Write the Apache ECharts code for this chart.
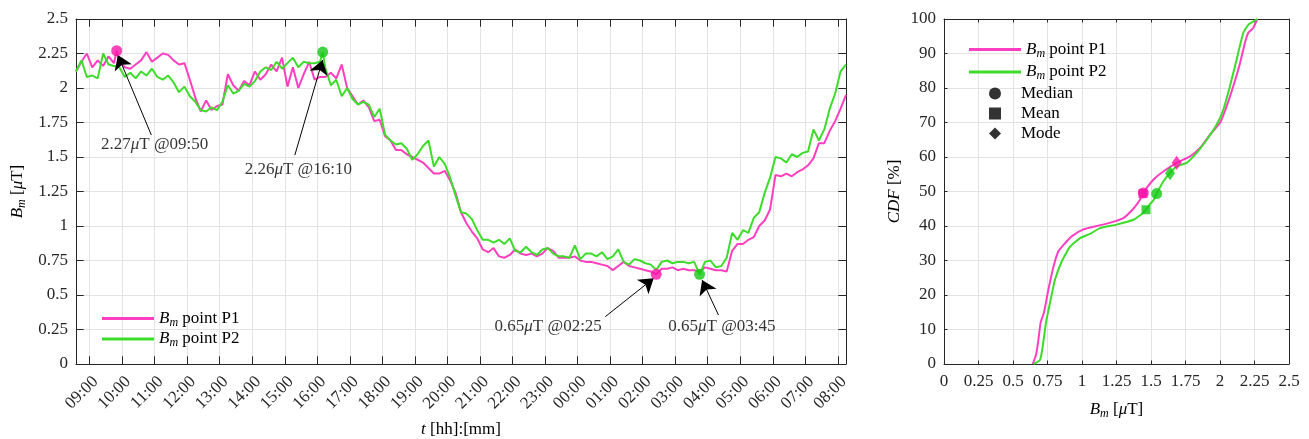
<!DOCTYPE html>
<html><head><meta charset="utf-8">
<script src="https://cdn.jsdelivr.net/npm/echarts@6/dist/echarts.min.js"></script>
<style>html,body{margin:0;padding:0;background:#fff}#c{width:1309px;height:439px}</style>
</head><body><div id="c"></div>
<script>
// ---------- DATA ----------
const startTime = '08:35';       // first sample
const endTime = '08:15';         // last sample (next day)
const stepMinutes = 10;
const hourTicks = [9,10,11,12,13,14,15,16,17,18,19,20,21,22,23,24,25,26,27,28,29,30,31,32];
const bmTicks = [0,0.25,0.5,0.75,1,1.25,1.5,1.75,2,2.25,2.5];

const p1 = [
 2.12,2.19,2.25,2.15,2.20,2.16,2.23,2.18,2.19,2.15,
 2.14,2.17,2.20,2.26,2.19,2.22,2.25,2.24,2.20,2.17,
 2.18,2.06,1.93,1.83,1.91,1.84,1.87,1.88,2.10,2.02,
 1.98,2.05,2.02,2.12,2.06,2.10,2.17,2.12,2.22,2.01,
 2.15,2.00,2.10,2.19,2.06,2.08,2.08,2.11,2.07,2.17,
 2.00,1.94,1.88,1.91,1.86,1.76,1.77,1.65,1.62,1.55,
 1.55,1.52,1.50,1.48,1.46,1.42,1.38,1.38,1.40,1.33,
 1.24,1.10,1.02,0.96,0.91,0.83,0.81,0.84,0.78,0.77,
 0.79,0.83,0.80,0.79,0.80,0.78,0.80,0.84,0.82,0.77,
 0.77,0.77,0.78,0.75,0.74,0.74,0.73,0.72,0.71,0.68,
 0.71,0.74,0.71,0.70,0.69,0.68,0.67,0.65,0.69,0.69,
 0.70,0.68,0.69,0.68,0.68,0.67,0.70,0.69,0.68,0.68,
 0.67,0.82,0.87,0.87,0.90,0.92,1.00,1.04,1.12,1.37,
 1.36,1.38,1.36,1.39,1.41,1.44,1.49,1.60,1.60,1.69,
 1.76,1.85,1.95];
const p2 = [
 2.12,2.20,2.08,2.09,2.07,2.25,2.17,2.16,2.15,2.08,
 2.11,2.07,2.12,2.09,2.14,2.08,2.06,2.09,2.04,1.97,
 2.01,1.94,1.90,1.84,1.83,1.86,1.84,1.90,2.02,1.96,
 1.98,2.03,2.01,2.05,2.12,2.15,2.13,2.19,2.14,2.18,
 2.22,2.15,2.19,2.18,2.18,2.19,2.14,2.02,2.06,1.94,
 2.00,1.92,1.88,1.90,1.88,1.79,1.85,1.66,1.62,1.59,
 1.60,1.56,1.48,1.52,1.58,1.62,1.43,1.50,1.45,1.35,
 1.22,1.10,1.09,1.05,0.97,0.90,0.90,0.88,0.90,0.87,
 0.91,0.82,0.81,0.85,0.81,0.79,0.83,0.84,0.80,0.78,
 0.78,0.77,0.86,0.76,0.80,0.80,0.78,0.81,0.76,0.78,
 0.83,0.74,0.72,0.76,0.75,0.73,0.72,0.68,0.74,0.75,
 0.73,0.74,0.74,0.73,0.74,0.65,0.74,0.75,0.70,0.71,
 0.77,0.95,0.90,0.97,0.95,1.06,1.10,1.24,1.35,1.50,
 1.49,1.46,1.52,1.50,1.53,1.54,1.70,1.62,1.70,1.85,
 1.96,2.12,2.17];

// extremes: [seriesIndex, time, value]
const extremes = [[0,'09:50',2.27],[1,'16:10',2.26],[0,'02:25',0.65],[1,'03:45',0.65]];

// CDF curves
const cdf1B = [0.643,0.667,0.684,0.70,0.725,0.756,0.792,0.828,0.877,0.925,1.01,1.107,1.2,1.3,1.372,1.42,1.444,1.517,1.589,1.686,1.783,1.855,1.928,2.0,2.048,2.096,2.145,2.18,2.205,2.241,2.27];
const cdf1P = [0,2.7,7,12,15,21.5,28,32.6,35,37,39,40,40.9,42.3,45,47.6,49.6,53.4,55.8,58.3,60.2,62.6,66.5,69.9,74.7,80.5,87.2,93,96,97.4,100];
const cdf2B = [0.65,0.696,0.715,0.739,0.768,0.804,0.853,0.913,0.986,1.058,1.13,1.25,1.372,1.444,1.49,1.52,1.541,1.589,1.638,1.686,1.758,1.831,1.904,1.976,2.024,2.072,2.12,2.169,2.205,2.254,2.27];
const cdf2P = [0,1.2,5,12,17.7,24.4,29.7,34,36.5,37.7,39.4,40.4,41.8,43.8,46.2,47.6,49.4,52.9,55.4,57.3,58.3,61.2,65,69.4,73.7,80.5,88.2,96,98.3,99.6,100];
const cdfTicksX = [0,0.25,0.5,0.75,1,1.25,1.5,1.75,2,2.25,2.5];
const cdfTicksY = [0,10,20,30,40,50,60,70,80,90,100];
// statistics [B, CDF%]
const median1 = [1.444,49.6], mean1 = [1.442,49.4], mode1 = [1.686,58.3];
const median2 = [1.541,49.4], mean2 = [1.464,44.7], mode2 = [1.638,55.3];

// ---------- LAYOUT (annotation placement, hours / value units) ----------
const annotLayout = [
 {text:[11.0,1.587], tail:[10.899,1.659], head:[9.871,2.239]},
 {text:[15.417,1.406], tail:[15.31,1.514], head:[16.162,2.203]},
 {text:[23.097,0.275], tail:[24.851,0.343], head:[26.338,0.621]},
 {text:[28.437,0.275], tail:[28.33,0.355], head:[27.827,0.609]}
];

// ---------- BUILD ----------
const names = ['Bm point P1','Bm point P2'];
const lineColors = ['#ff3fc0','#3ddc2a'];
const markColors = ['#ff14a8','#12c812'];
const FONT = 'Liberation Serif';
const FS = 17;
function toHours(s){const [h,m]=s.split(':').map(Number);let v=h+m/60;if(v<8.5)v+=24;return v;}
const t0 = toHours(startTime), t1 = toHours(endTime);
function buildLine(vals, si){
  const pts = vals.map((v,k)=>[t0 + k*stepMinutes/60, v]);
  extremes.filter(e=>e[0]===si).forEach(e=>{
    const t = toHours(e[1]);
    const i = pts.findIndex(p=>Math.abs(p[0]-t)<1e-6);
    if(i>=0) pts[i][1]=e[2]; else pts.push([t,e[2]]);
  });
  pts.sort((a,b)=>a[0]-b[0]);
  return pts;
}
const zip = (a,b)=>a.map((v,i)=>[v,b[i]]);
const pad = n=>(n<10?'0':'')+n;
const fmtHour = v=>pad(Math.round(v)%24)+':00';

const rich = {
  i:{fontFamily:FONT,fontStyle:'italic',fontSize:FS,lineHeight:20,color:'#000'},
  s:{fontFamily:FONT,fontStyle:'italic',fontSize:12,lineHeight:12,verticalAlign:'bottom',color:'#000'},
  r:{fontFamily:FONT,fontSize:FS,lineHeight:20,color:'#000'}
};
const legendFmt = n=>{
  if(n.startsWith('Bm')) return '{i|B}{s|m}{r|'+n.slice(2)+'}';
  return '{r|'+n+'}';
};

const axisLineCol = '#262626';
const gridCol = '#e3e3e3';
const labelCol = '#262626';
function xAxisCfg(grid, min, max, ticks, pos, showLabels, tickLen, opts){
  return Object.assign({
    type:'value', gridIndex:grid, min, max, position:pos,
    axisLine:{show:true,onZero:false,lineStyle:{color:axisLineCol,width:1}},
    axisTick:{show:true,inside:true,length:tickLen,customValues:ticks,lineStyle:{color:axisLineCol}},
    axisLabel:{show:showLabels,customValues:ticks,fontFamily:FONT,fontSize:FS,color:labelCol},
    splitLine:{show:showLabels,lineStyle:{color:gridCol,width:1}}
  }, opts||{});
}
function yAxisCfg(grid, min, max, interval, pos, showLabels, tickLen, opts){
  return Object.assign({
    type:'value', gridIndex:grid, min, max, interval, position:pos,
    axisLine:{show:true,onZero:false,lineStyle:{color:axisLineCol,width:1}},
    axisTick:{show:true,inside:true,length:tickLen,lineStyle:{color:axisLineCol}},
    axisLabel:{show:showLabels,fontFamily:FONT,fontSize:FS,color:labelCol,margin:8},
    splitLine:{show:showLabels,lineStyle:{color:gridCol,width:1}}
  }, opts||{});
}

const series = [];
// left time series
[p1,p2].forEach((vals,si)=>{
  series.push({name:names[si],type:'line',xAxisIndex:0,yAxisIndex:0,data:buildLine(vals,si),
    showSymbol:false,symbol:'none',lineStyle:{width:2,color:lineColors[si]},itemStyle:{color:lineColors[si]},z:2+si});
});
// extreme markers
series.push({name:'ext',type:'scatter',xAxisIndex:0,yAxisIndex:0,symbolSize:11,z:5,
  data:extremes.map(e=>({value:[toHours(e[1]),e[2]],itemStyle:{color:markColors[e[0]]}}))});
// annotation arrows and text
series.push({name:'annot',type:'scatter',xAxisIndex:0,yAxisIndex:0,symbolSize:0,z:6,
  data:extremes.map((e,i)=>({value:annotLayout[i].text,
    label:{show:true,position:'inside',formatter:e[2].toFixed(2)+'{i|μ}T @'+e[1],
      rich:{i:{fontFamily:FONT,fontStyle:'italic',fontSize:FS,color:'#000'}},fontFamily:FONT,fontSize:FS,color:'#000'}})),
  markLine:{silent:true,symbol:['none','arrow'],symbolSize:14,label:{show:false},
    lineStyle:{color:'#000',width:1,type:'solid',opacity:1},itemStyle:{color:'#000'},emphasis:{disabled:true},
    data:annotLayout.map(a=>[{coord:a.tail},{coord:a.head}])}
});
// right CDF
[[cdf1B,cdf1P],[cdf2B,cdf2P]].forEach((c,si)=>{
  series.push({name:names[si],type:'line',xAxisIndex:2,yAxisIndex:2,data:zip(c[0],c[1]),smooth:0.15,
    showSymbol:false,symbol:'none',lineStyle:{width:2,color:lineColors[si]},itemStyle:{color:lineColors[si]},z:2+si});
});
// legend dummies
[['Median','circle'],['Mean','rect'],['Mode','diamond']].forEach(d=>{
  series.push({name:d[0],type:'scatter',xAxisIndex:2,yAxisIndex:2,symbol:d[1],data:[],itemStyle:{color:'#000'}});
});
// stats markers
const statDefs = [
  ['rect',9,[mean1,mean2]],
  ['circle',11,[median1,median2]],
  ['diamond',[10,14],[mode1,mode2]]
];
statDefs.forEach(sd=>{
  series.push({name:'stat-'+sd[0],type:'scatter',xAxisIndex:2,yAxisIndex:2,symbol:sd[0],symbolSize:sd[1],z:6,
    data:sd[2].map((p,si)=>({value:p,itemStyle:{color:markColors[si]}}))});
});

const option = {
  animation:false,
  backgroundColor:'#fff',
  textStyle:{fontFamily:FONT},
  grid:[
    {left:76,top:19,width:770,height:345,show:false,outerBoundsMode:'none',containLabel:false},
    {left:944,top:19,width:345,height:345,show:false,outerBoundsMode:'none',containLabel:false}
  ],
  xAxis:[
    xAxisCfg(0,t0,t1,hourTicks,'bottom',true,7.7,{
      axisLabel:{show:true,customValues:hourTicks,rotate:45,margin:9,verticalAlign:'top',fontFamily:FONT,fontSize:FS,color:labelCol,formatter:fmtHour},
      name:'{i|t}{r| [hh]:[mm]}',nameLocation:'middle',nameGap:56,nameTextStyle:{rich}}),
    xAxisCfg(0,t0,t1,hourTicks,'top',false,7.7),
    xAxisCfg(1,0,2.5,cdfTicksX,'bottom',true,3.5,{
      axisLabel:{show:true,customValues:cdfTicksX,margin:9,fontFamily:FONT,fontSize:FS,color:labelCol},
      name:'{i|B}{s|m}{r| [}{i|μ}{r|T]}',nameLocation:'middle',nameGap:36,nameTextStyle:{rich}}),
    xAxisCfg(1,0,2.5,cdfTicksX,'top',false,3.5)
  ],
  yAxis:[
    yAxisCfg(0,bmTicks[0],bmTicks[bmTicks.length-1],0.25,'left',true,7.7,{
      name:'{i|B}{s|m}{r| [}{i|μ}{r|T]}',nameLocation:'middle',nameGap:47,nameRotate:90,nameTextStyle:{rich}}),
    yAxisCfg(0,bmTicks[0],bmTicks[bmTicks.length-1],0.25,'right',false,7.7),
    yAxisCfg(1,cdfTicksY[0],cdfTicksY[cdfTicksY.length-1],10,'left',true,3.5,{
      name:'{i|CDF}{r| [%]}',nameLocation:'middle',nameGap:39,nameRotate:90,nameTextStyle:{rich}}),
    yAxisCfg(1,cdfTicksY[0],cdfTicksY[cdfTicksY.length-1],10,'right',false,3.5)
  ],
  legend:[
    {orient:'vertical',left:97,top:305,itemWidth:52,itemHeight:3,itemGap:2,selectedMode:false,
     data:names.map(n=>({name:n,icon:'rect'})),formatter:legendFmt,textStyle:{rich}},
    {orient:'vertical',left:964,top:36,itemWidth:52,itemHeight:3,itemGap:4,selectedMode:false,
     data:names.map(n=>({name:n,icon:'rect'})),formatter:legendFmt,textStyle:{rich}},
    {orient:'vertical',left:984,top:80,itemWidth:12,itemHeight:12,itemGap:3,selectedMode:false,
     data:['Median','Mean','Mode'],formatter:legendFmt,textStyle:{rich,padding:[0,0,0,15]}}
  ],
  series
};
const chart = echarts.init(document.getElementById('c'),null,{renderer:'canvas'});
chart.setOption(option);
</script></body></html>
